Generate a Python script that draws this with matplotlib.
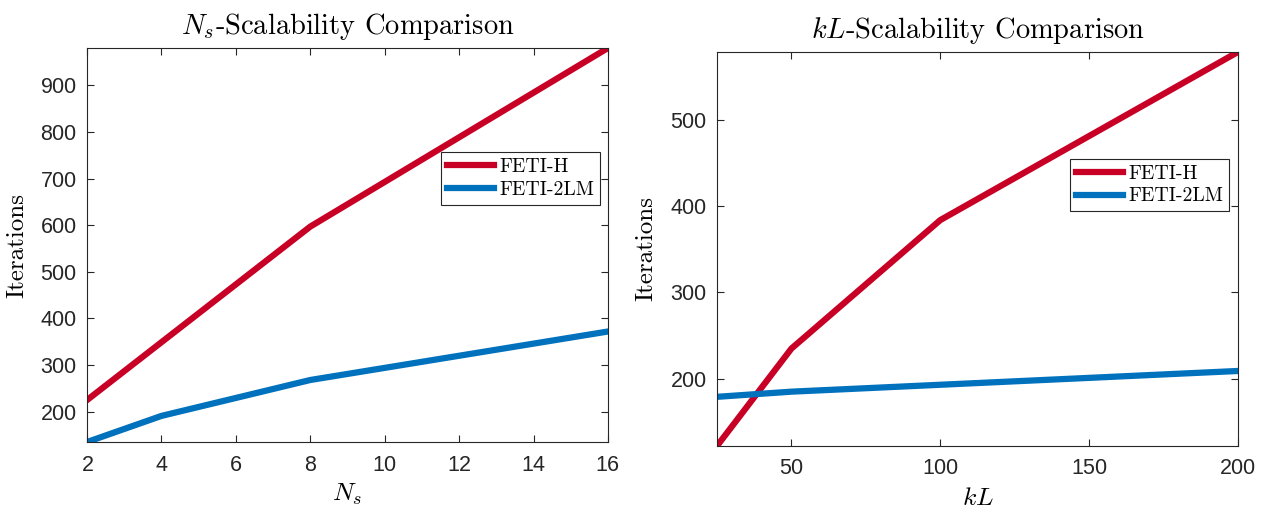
import matplotlib
matplotlib.use('Agg')
import matplotlib.pyplot as plt

plt.rcParams['mathtext.fontset'] = 'cm'
plt.rcParams['axes.formatter.use_mathtext'] = True

# left panel: number of subdomains
ns = [2, 4, 8, 16]
ns_feti_h = [225, 349, 597, 980]
ns_feti_2lm = [135, 191, 268, 372]

# right panel: kL
kl = [25, 50, 100, 200]
kl_feti_h = [122, 235, 384, 579]
kl_feti_2lm = [179, 185, 193, 209]

red = '#C80025'
blue = '#0072BD'
serif = 'cmr10'
tickfont = 'Liberation Sans'

fig = plt.figure(figsize=(12.65, 5.09), dpi=100)
ax1 = fig.add_axes([0.0688, 0.1316, 0.4118, 0.7741])
ax2 = fig.add_axes([0.5668, 0.1238, 0.4119, 0.7742])


def style(ax, x, y1, y2, xticks, yticks, title, xlabel, leg_anchor, ylab_x):
    ax.plot(x, y1, color=red, lw=4.5, label='FETI-H')
    ax.plot(x, y2, color=blue, lw=4.5, label='FETI-2LM')
    ax.set_xlim(x[0], x[-1])
    ax.set_ylim(min(y1 + y2), max(y1 + y2))
    ax.set_xticks(xticks)
    ax.set_yticks(yticks)
    ax.tick_params(direction='in', top=True, right=True, length=5, width=0.8,
                   labelsize=15.5, colors='#262626', pad=7)
    ax.tick_params(axis='x', pad=9)
    for lab in ax.get_xticklabels() + ax.get_yticklabels():
        lab.set_fontfamily(tickfont)
    for sp in ax.spines.values():
        sp.set_color('#262626')
        sp.set_linewidth(0.8)
    ax.set_title(title, fontsize=20.5, fontfamily=serif, pad=10)
    ax.set_xlabel(xlabel, fontsize=18.5, labelpad=4)
    ax.set_ylabel('Iterations', fontsize=18, fontfamily=serif)
    ax.yaxis.set_label_coords(ylab_x, 0.5)
    leg = ax.legend(loc='upper right', bbox_to_anchor=leg_anchor, fancybox=False,
                    edgecolor='#262626', framealpha=1, handlelength=2.4,
                    borderpad=0.3, labelspacing=0.25, handletextpad=0.25,
                    borderaxespad=0, prop={'family': serif, 'size': 14.3})
    leg.get_frame().set_linewidth(0.8)


style(ax1, ns, ns_feti_h, ns_feti_2lm, range(2, 17, 2), range(200, 1000, 100),
      r'$N_s$-Scalability Comparison', r'$N_s$', (0.985, 0.735), -0.113)
style(ax2, kl, kl_feti_h, kl_feti_2lm, [50, 100, 150, 200], [200, 300, 400, 500],
      r'$kL$-Scalability Comparison', r'$kL$', (0.983, 0.729), -0.115)

fig.savefig('out.png', dpi=100)
